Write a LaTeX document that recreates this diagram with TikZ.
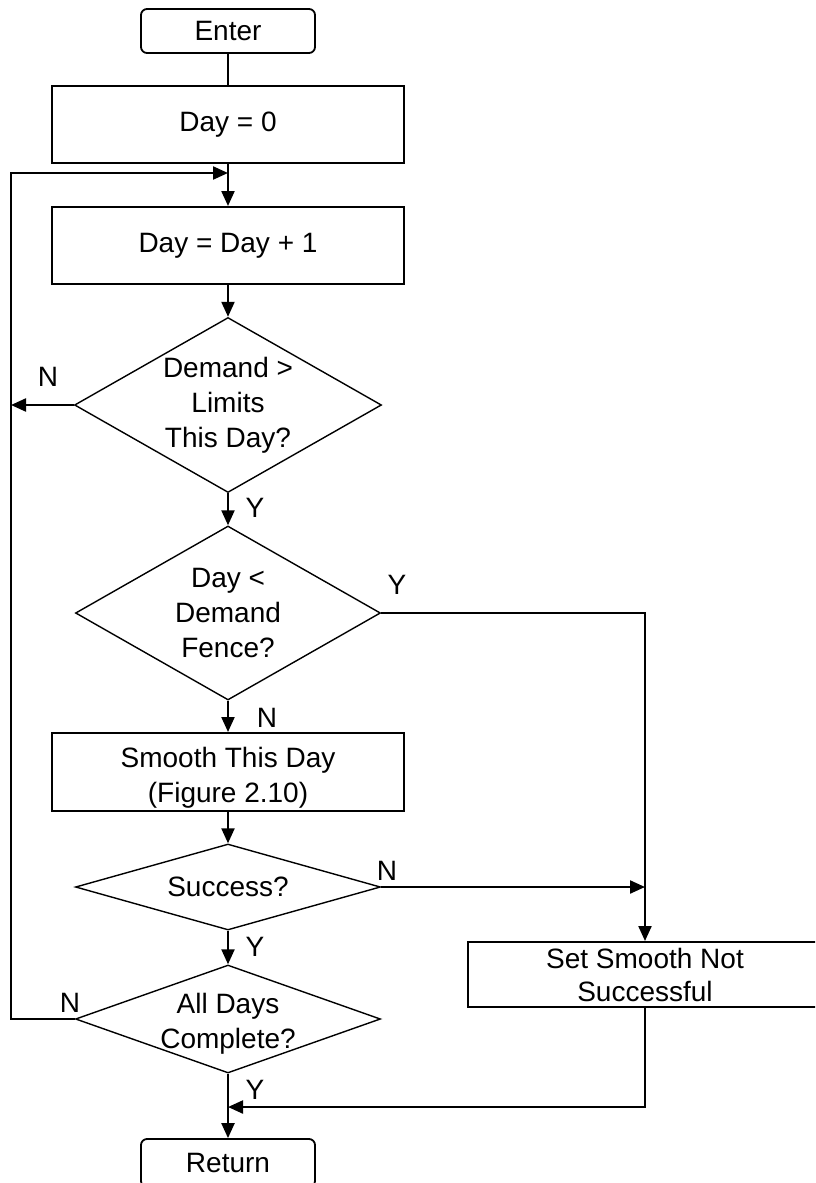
\documentclass[tikz,border=0pt]{standalone}
\usepackage{fontspec}
\setmainfont{Liberation Sans}
\usetikzlibrary{shapes.geometric,arrows.meta}
% two centred lines, shifted down by #1 relative to the node centre
\newcommand{\twolines}[3]{\raisebox{#1}[0pt][0pt]{\begin{tabular}{@{}c@{}}#2\\#3\end{tabular}}}
\begin{document}
\begin{tikzpicture}[x=1pt,y=-1pt,
  every node/.style={font=\fontsize{28}{35}\selectfont, inner sep=0pt},
  procbox/.style={draw, line width=2pt, rectangle, align=center,
    minimum width=352pt, minimum height=77pt},
  termbox/.style={draw, line width=1.8pt, rounded corners=6pt,
    minimum width=174pt, minimum height=44pt},
  decision/.style={draw, line width=1.4pt, diamond, align=center,
    inner sep=-20pt},
  flow/.style={line width=2.2pt, -{Triangle[length=15pt,width=13pt]}},
  link/.style={line width=2.2pt},
  yn/.style={}
]
% page frame
\path[use as bounding box] (0,0) rectangle (815,1183);
\clip (0,0) rectangle (815,1183);

% blocks
\node[termbox] (enter) at (228,31) {Enter};
\node[procbox] (day0) at (228,124.5) {Day = 0};
\node[procbox] (dayinc) at (228,245.5) {Day = Day + 1};
\node[decision, aspect=1.75, minimum width=307pt, minimum height=175pt]
  (dem) at (228,405) {Demand >\\Limits\\This Day?};
\node[decision, aspect=1.75, minimum width=305pt, minimum height=174pt]
  (fence) at (228,613) {Day <\\Demand\\Fence?};
\node[procbox, minimum height=78pt] (smooth) at (228,772)
  {\twolines{-12.5pt}{Smooth This Day}{(Figure 2.10)}};
\node[decision, aspect=3.55, minimum width=305pt, minimum height=86pt]
  (succ) at (228,887) {Success?};
\node[decision, aspect=2.82, minimum width=305pt, minimum height=108pt]
  (all) at (228,1019) {\twolines{-11.5pt}{All Days}{Complete?}};
\node[procbox, minimum width=354pt, minimum height=65pt,
  font=\fontsize{28}{33}\selectfont] (setno) at (645,974.5)
  {\twolines{-10pt}{Set Smooth Not}{Successful}};
\node[termbox, minimum height=48pt] (ret) at (228,1163) {Return};

% loop-back rail and merge points
\coordinate (lefttop) at (11,173);
\coordinate (merge) at (228,1107);

% main flow
\draw[link] (enter.south) -- (day0.north);
\draw[flow] (day0.south) -- (dayinc.north);
\draw[flow] (dayinc.south) -- (dem.north);
\draw[flow] (dem.south) -- (fence.north);
\draw[flow] (fence.south) -- (smooth.north);
\draw[flow] (smooth.south) -- (succ.north);
\draw[flow] (succ.south) -- (all.north);
\draw[flow] (all.south) -- (ret.north);

% branches
\draw[flow] (dem.west) -- (dem.west -| lefttop);
\draw[flow] (all.west) -| (lefttop) -- (day0.south |- lefttop);
\draw[flow] (fence.east) -| (setno.north);
\draw[flow] (succ.east) -- (succ.east -| setno.north);
\draw[flow] (setno.south) |- (merge);

% branch labels
\node[yn] (n1) at (48,377) {N};
\node[yn] (y1) at (255,508) {Y};
\node[yn] (y2) at (397,585) {Y};
\node[yn] (n2) at (267,718) {N};
\node[yn] (n3) at (387,871) {N};
\node[yn] (y3) at (255,947) {Y};
\node[yn] (n4) at (70,1003) {N};
\node[yn] (y4) at (255,1090) {Y};
\end{tikzpicture}
\end{document}
